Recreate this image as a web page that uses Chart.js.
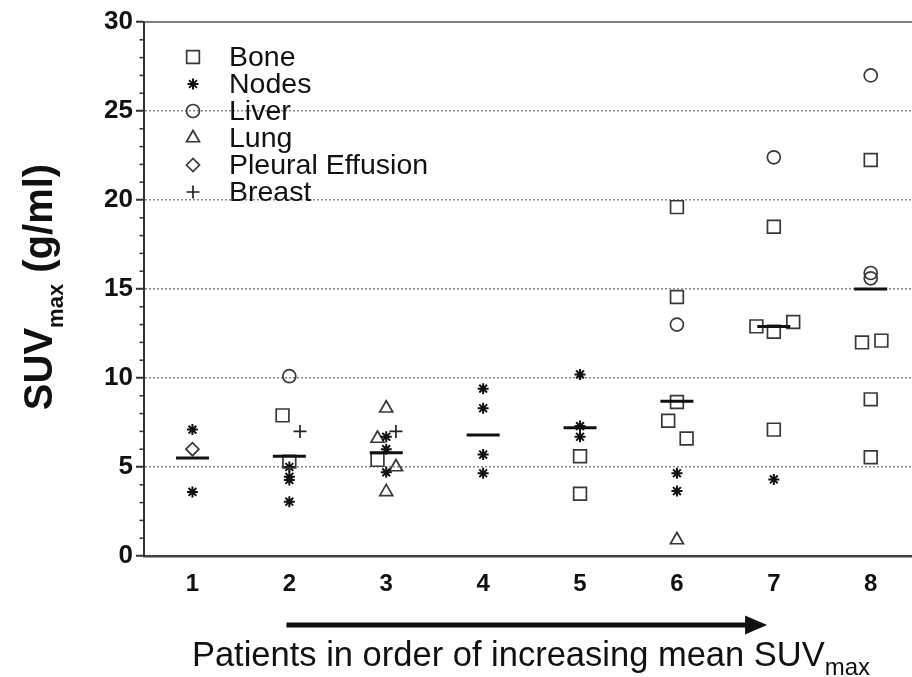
<!DOCTYPE html>
<html>
<head>
<meta charset="utf-8">
<title>SUVmax by patient</title>
<script src="https://cdn.jsdelivr.net/npm/chart.js@4.4.1/dist/chart.umd.min.js"></script>
<style>
  html, body { margin: 0; padding: 0; background: #fff; }
  #wrap { width: 912px; height: 677px; }
</style>
</head>
<body>
<div id="wrap"><canvas id="suvChart" width="912" height="677"></canvas></div>
<script>
// patients on the x axis
const patients = ['1', '2', '3', '4', '5', '6', '7', '8'];
const yTicks = [0, 5, 10, 15, 20, 25, 30];
const tissues = ['Bone', 'Nodes', 'Liver', 'Lung', 'Pleural Effusion', 'Breast'];

// [patient (with the small side shift used in the figure), SUVmax]
const bone = [[1.93, 7.9], [2, 5.3], [2.91, 5.4], [5, 5.6], [5, 3.5],
  [6, 19.6], [6, 14.55], [6, 8.65], [5.91, 7.6], [6.1, 6.6],
  [7, 18.5], [6.82, 12.9], [7, 12.6], [7.2, 13.15], [7, 7.1],
  [8, 22.25], [7.91, 12.0], [8.11, 12.1], [8, 8.8], [8, 5.55]];
const nodes = [[1, 7.1], [1, 3.6], [2, 5.0], [2, 4.45], [2, 4.27], [2, 3.05],
  [3, 6.7], [3, 6.0], [3, 4.7], [4, 9.4], [4, 8.3], [4, 5.7], [4, 4.65],
  [5, 10.2], [5, 7.3], [5, 6.7], [6, 4.65], [6, 3.65], [7, 4.3]];
const liver = [[2, 10.1], [6, 13.0], [7, 22.4], [8, 27.0], [8, 15.9], [8, 15.6]];
const lung = [[3, 8.3], [2.91, 6.6], [3.1, 5.0], [3, 3.6], [6, 0.9]];
const pleural = [[1, 6.0]];
const breast = [[2.11, 7.0], [3.1, 7.0]];
// mean SUVmax per patient (horizontal bars)
const means = [5.5, 5.6, 5.8, 6.8, 7.2, 8.7, 12.9, 15.0];

const FONT = "'Liberation Sans', Arial, Helvetica, sans-serif";
const series = [bone, nodes, liver, lung, pleural, breast];
const looks = [
  { shape: 'rect', r: 9, w: 1.7, color: '#383838' },
  { shape: 'star', r: 5.5, w: 2, color: '#111' },
  { shape: 'circle', r: 6.5, w: 1.7, color: '#383838' },
  { shape: 'triangle', r: 7.5, w: 1.7, color: '#383838' },
  { shape: 'rectRot', r: 6.5, w: 1.7, color: '#383838' },
  { shape: 'cross', r: 6.5, w: 1.7, color: '#222' }
];

const datasets = tissues.map((name, i) => ({
  label: name,
  data: series[i].map(p => ({ x: p[0], y: p[1] })),
  showLine: false,
  pointStyle: looks[i].shape,
  pointRadius: looks[i].r,
  pointBorderWidth: looks[i].w,
  pointBorderColor: looks[i].color,
  pointBackgroundColor: 'rgba(0,0,0,0)',
  borderColor: looks[i].color,
  backgroundColor: 'rgba(0,0,0,0)',
  order: 1
}));
datasets.push({
  label: 'mean',
  data: means.map((v, i) => ({ x: i + 1, y: v })),
  showLine: false,
  pointStyle: 'line',
  pointRadius: 16.5,
  pointBorderWidth: 3,
  pointBorderColor: '#111',
  borderColor: '#111',
  order: 0
});

const extras = {
  id: 'extras',
  afterDraw(chart) {
    const { ctx, chartArea: a, scales: { x, y } } = chart;
    ctx.save();

    // top frame
    ctx.strokeStyle = '#555';
    ctx.lineWidth = 1.5;
    ctx.beginPath(); ctx.moveTo(a.left, a.top); ctx.lineTo(a.right, a.top); ctx.stroke();

    // minor ticks on y
    ctx.strokeStyle = '#333';
    ctx.lineWidth = 1.5;
    for (let v = 1; v < 30; v++) {
      if (v % 5 === 0) continue;
      const py = y.getPixelForValue(v);
      ctx.beginPath(); ctx.moveTo(a.left - 4.5, py); ctx.lineTo(a.left, py); ctx.stroke();
    }

    // legend
    const draw = Chart.helpers && Chart.helpers.drawPoint;
    chart.data.datasets.forEach((ds, i) => {
      if (i >= tissues.length) return;
      const ly = a.top + 35 + i * 27;
      ctx.strokeStyle = looks[i].color;
      ctx.fillStyle = 'rgba(0,0,0,0)';
      ctx.lineWidth = looks[i].w;
      if (draw) draw(ctx, { pointStyle: looks[i].shape, radius: looks[i].r, borderWidth: looks[i].w, rotation: 0 }, a.left + 49, ly);
      ctx.fillStyle = '#111';
      ctx.font = '28.5px ' + FONT;
      ctx.textBaseline = 'middle';
      ctx.textAlign = 'left';
      ctx.fillText(tissues[i], a.left + 85, ly + 1);
    });

    // arrow under the x labels
    const ax0 = x.getPixelForValue(1.97), ax1 = x.getPixelForValue(6.93), ay = a.bottom + 69;
    ctx.fillStyle = '#111';
    ctx.fillRect(ax0, ay - 2.5, ax1 - ax0 - 18, 5);
    ctx.beginPath();
    ctx.moveTo(ax1 - 22, ay - 9.5); ctx.lineTo(ax1, ay); ctx.lineTo(ax1 - 22, ay + 9.5); ctx.closePath();
    ctx.fill();

    // x title with subscript
    ctx.textBaseline = 'alphabetic';
    ctx.textAlign = 'left';
    const main = 'Patients in order of increasing mean SUV', sub = 'max';
    ctx.font = '34.5px ' + FONT;
    const w1 = ctx.measureText(main).width;
    ctx.font = '24px ' + FONT;
    const w2 = ctx.measureText(sub).width;
    const tx = (a.left + a.right) / 2 + 3 - (w1 + w2) / 2;
    ctx.font = '34.5px ' + FONT;
    ctx.fillText(main, tx, a.bottom + 110);
    ctx.font = '24px ' + FONT;
    ctx.fillText(sub, tx + w1, a.bottom + 119);

    // y title with subscript
    ctx.save();
    ctx.translate(52, (a.top + a.bottom) / 2 - 2);
    ctx.rotate(-Math.PI / 2);
    const p1 = 'SUV', p2 = 'max', p3 = ' (g/ml)';
    ctx.font = 'bold 40px ' + FONT;
    const q1 = ctx.measureText(p1).width, q3 = ctx.measureText(p3).width;
    ctx.font = 'bold 22px ' + FONT;
    const q2 = ctx.measureText(p2).width;
    let sx = -(q1 + q2 + q3) / 2;
    ctx.font = 'bold 40px ' + FONT;
    ctx.fillText(p1, sx, 0);
    ctx.font = 'bold 22px ' + FONT;
    ctx.fillText(p2, sx + q1, 11);
    ctx.font = 'bold 40px ' + FONT;
    ctx.fillText(p3, sx + q1 + q2, 0);
    ctx.restore();

    ctx.restore();
  }
};

new Chart(document.getElementById('suvChart'), {
  type: 'scatter',
  data: { datasets: datasets },
  options: {
    responsive: false,
    animation: false,
    events: [],
    layout: { autoPadding: false, padding: { top: 22, right: 0, bottom: 0, left: 0 } },
    plugins: { legend: { display: false }, tooltip: { enabled: false } },
    scales: {
      x: {
        type: 'linear',
        min: 0.5,
        max: 8.426,
        afterBuildTicks: s => { s.ticks = patients.map((p, i) => ({ value: i + 1 })); },
        ticks: {
          callback: (v, i) => patients[i],
          font: { family: FONT, size: 24, weight: 'bold' },
          color: '#111',
          padding: 14,
          autoSkip: false,
          maxRotation: 0
        },
        grid: { display: false, drawTicks: false },
        border: { display: true, color: '#444', width: 2.5 },
        afterFit: s => { s.height = 121; s.paddingLeft = 0; s.paddingRight = 0; }
      },
      y: {
        min: 0,
        max: 30,
        afterBuildTicks: s => { s.ticks = yTicks.map(v => ({ value: v })); },
        ticks: {
          font: { family: FONT, size: 26, weight: 'bold' },
          color: '#111',
          padding: 3
        },
        grid: {
          color: c => (c.tick && c.tick.value > 0 && c.tick.value < 30) ? '#8a8a8a' : 'rgba(0,0,0,0)',
          lineWidth: 1.5,
          tickColor: '#333',
          tickLength: 8,
          tickWidth: 2
        },
        border: { display: true, color: '#333', width: 2, dash: [2, 2] },
        afterFit: s => { s.width = 144; }
      }
    }
  },
  plugins: [extras]
});
</script>
</body>
</html>
